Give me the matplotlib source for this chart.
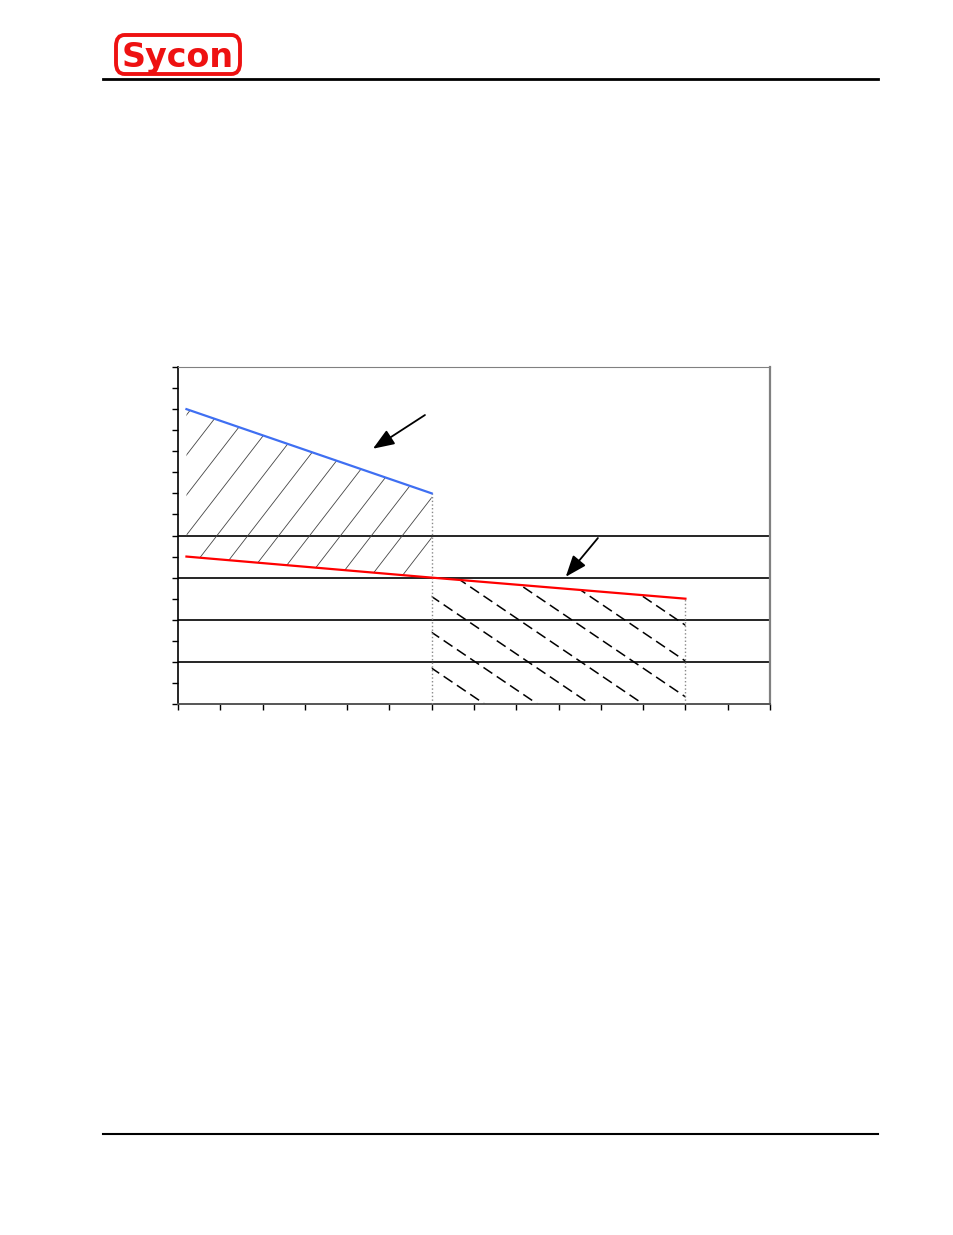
import numpy as np
import matplotlib.pyplot as plt
from matplotlib.patches import FancyBboxPatch, Polygon

# chart data (axis units)
blue_x = [0.2, 6.0]
blue_y = [7.0, 5.0]
red_x = [0.2, 6.0, 12.0]
red_y = [3.5, 3.0, 2.5]
grid_levels = [1, 2, 3, 4]
x_max = 14
y_max = 8

# arrows: (tail, head)
arrows = [((5.84, 6.86), (4.61, 6.06)),
          ((9.93, 3.94), (9.17, 3.02))]

fig = plt.figure(figsize=(9.54, 12.35), dpi=100)

# page header / footer
fig.add_artist(plt.Line2D([103 / 954, 878 / 954], [1 - 79 / 1235] * 2, color="black", lw=2.0))
fig.add_artist(plt.Line2D([103 / 954, 878 / 954], [1 - 1134 / 1235] * 2, color="black", lw=1.5))
logo = FancyBboxPatch((116 / 954, 1 - 74 / 1235), 124 / 954, 39 / 1235,
                      boxstyle="round,pad=0,rounding_size=0.009",
                      transform=fig.transFigure, fill=False, ec="#ee1111", lw=2.8)
fig.add_artist(logo)
fig.text(178 / 954, 1 - 57 / 1235, "Sycon", color="#ee1111", fontsize=24,
         fontweight="bold", ha="center", va="center", family="DejaVu Sans")

ax = fig.add_axes([178 / 954, 1 - 704 / 1235, 592 / 954, 337 / 1235])
ax.set_xlim(0, x_max)
ax.set_ylim(0, y_max)

for g in grid_levels:
    ax.axhline(g, color="black", lw=1.2, zorder=1)

# shaded area between blue and red (up to x=6)
red_at_6 = np.interp(blue_x, red_x, red_y)
poly1 = Polygon(list(zip(blue_x, blue_y)) + list(zip(blue_x[::-1], red_at_6[::-1])),
                closed=True, fill=False, lw=0)
ax.add_patch(poly1)
for c in np.arange(-20, 12, 0.95):
    xs = np.array([0, x_max])
    line, = ax.plot(xs, c + 1.3 * xs, color="#444444", lw=0.6, zorder=2)
    line.set_clip_path(poly1)

# dashed shaded area under red (x=6..12)
x2 = [red_x[1], red_x[2]]
y2 = [red_y[1], red_y[2]]
poly2 = Polygon(list(zip(x2, y2)) + [(x2[1], 0), (x2[0], 0)], closed=True, fill=False, lw=0)
ax.add_patch(poly2)
for c in np.arange(0, 20, 0.85):
    xs = np.array([0, x_max])
    line, = ax.plot(xs, c - 0.68 * (xs - 6), color="black", lw=1.1,
                    linestyle=(0, (7, 3.5)), zorder=2)
    line.set_clip_path(poly2)

ax.vlines([blue_x[1]], 0, blue_y[1], color="#888888", lw=1.0, linestyle=":", zorder=3)
ax.vlines([red_x[2]], 0, red_y[2], color="#888888", lw=1.0, linestyle=":", zorder=3)

ax.plot(blue_x, blue_y, color="#3f6ff2", lw=1.6, zorder=4)
ax.plot(red_x, red_y, color="#ff0000", lw=1.6, zorder=4)

for tail, head in arrows:
    ax.annotate("", xy=head, xytext=tail,
                arrowprops=dict(arrowstyle="-|>,head_length=1.3,head_width=0.5",
                                color="black", lw=1.3, shrinkA=0, shrinkB=0))

ax.set_xticks(np.arange(0, x_max + 1, 1))
ax.set_yticks(np.arange(0, y_max + 0.5, 0.5))
ax.tick_params(direction="out", length=4, width=1, labelleft=False, labelbottom=False)
ax.spines["left"].set_color("black")
ax.spines["left"].set_linewidth(1.2)
ax.spines["bottom"].set_color("#555555")
ax.spines["bottom"].set_linewidth(1.4)
ax.spines["top"].set_color("#808080")
ax.spines["right"].set_color("#808080")
ax.spines["right"].set_linewidth(1.6)

plt.savefig("out.png", dpi=100)
plt.close()
